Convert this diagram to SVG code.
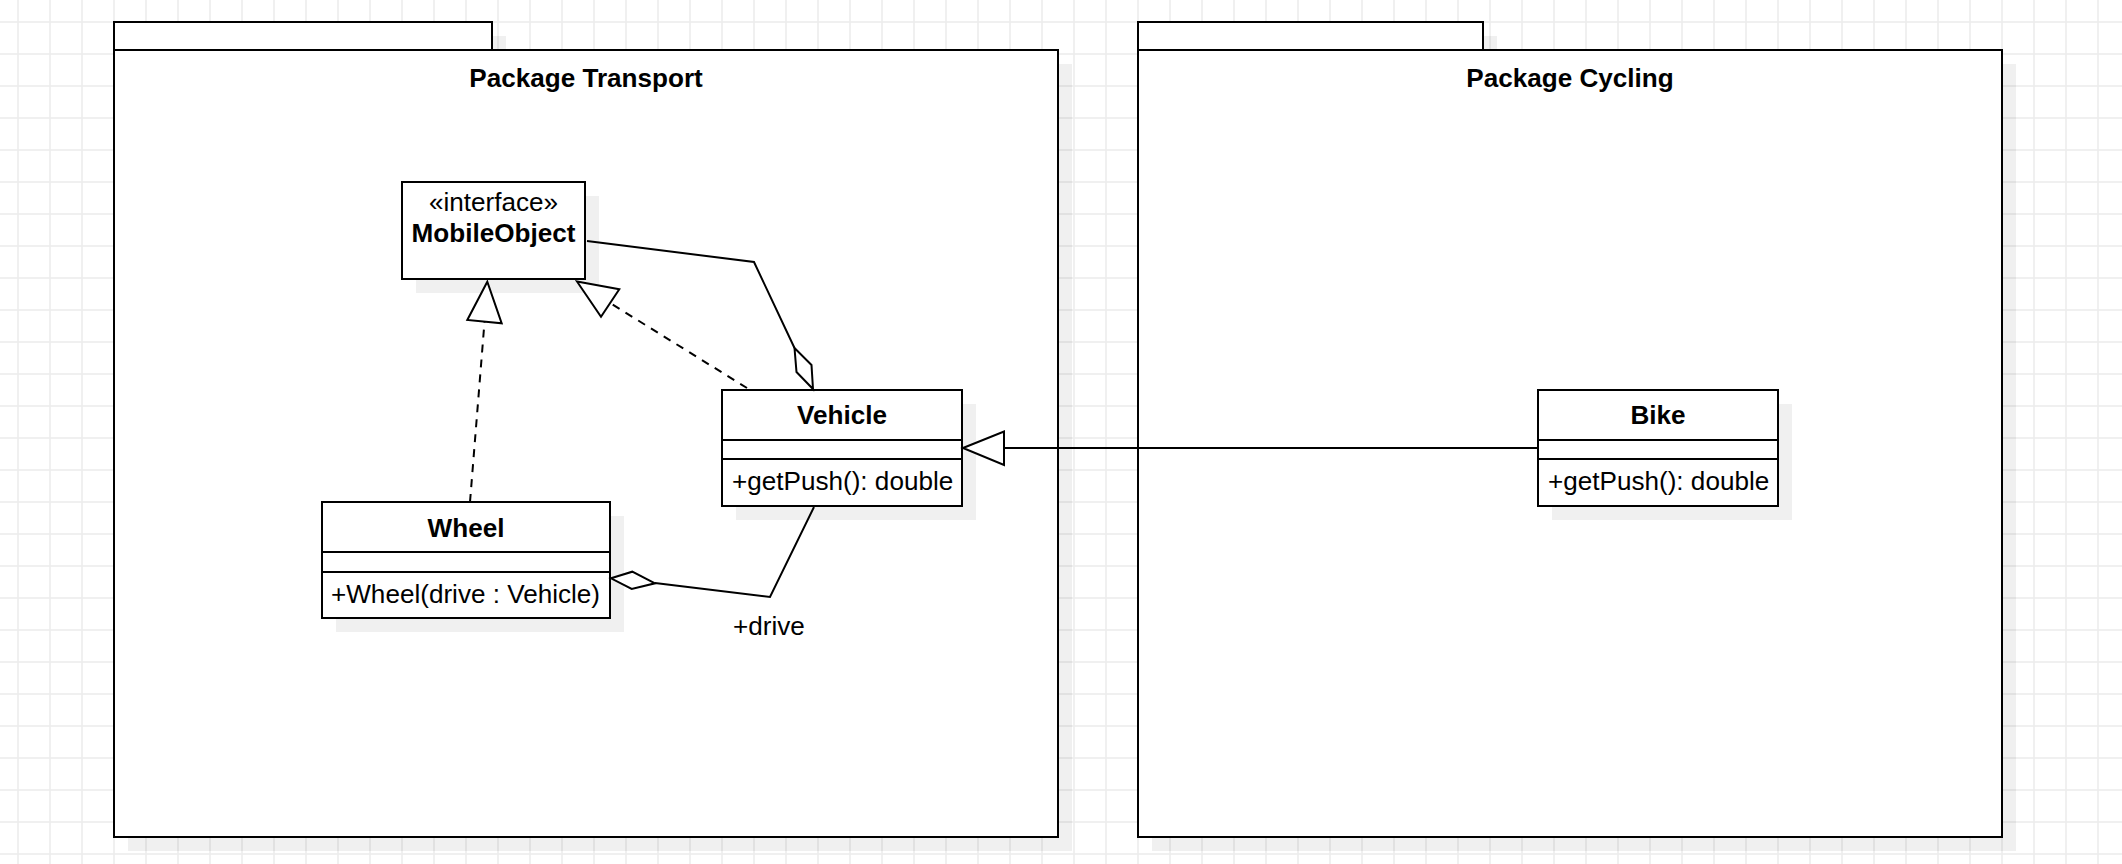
<svg xmlns="http://www.w3.org/2000/svg" width="2122" height="864" viewBox="0 0 2122 864">
  <defs>
    <pattern id="grid" patternUnits="userSpaceOnUse" x="2" y="6" width="32" height="32">
      <path d="M16 0V32M0 16H32" stroke="#ececec" stroke-width="1.5" fill="none"/>
    </pattern>
  </defs>
  <style>
    .box { fill: #ffffff; stroke: #000000; stroke-width: 2; }
    .shadow { fill: #000000; fill-opacity: 0.06; stroke: none; }
    .div { stroke: #000000; stroke-width: 2; }
    .edge { fill: none; stroke: #000000; stroke-width: 2; }
    .dash { stroke-dasharray: 8 7; }
    .head { fill: #ffffff; stroke: #000000; stroke-width: 2; stroke-linejoin: miter; }
    text { font-family: "Liberation Sans", Arial, sans-serif; font-size: 26.1px; fill: #000000; }
    .b { font-weight: bold; }
    .c { text-anchor: middle; }
  </style>

  <rect width="2122" height="864" fill="#ffffff"/>
  <rect width="2122" height="864" fill="url(#grid)"/>

  <!-- packages -->
  <g id="pkg-transport">
    <rect class="shadow" x="128" y="36" width="378" height="28"/>
    <rect class="shadow" x="128" y="64" width="944" height="787"/>
    <rect class="box" x="114" y="22" width="378" height="28"/>
    <rect class="box" x="114" y="50" width="944" height="787"/>
    <text class="b c" x="586" y="86.5">Package Transport</text>
  </g>
  <g id="pkg-cycling">
    <rect class="shadow" x="1152" y="36" width="345" height="28"/>
    <rect class="shadow" x="1152" y="64" width="864" height="787"/>
    <rect class="box" x="1138" y="22" width="345" height="28"/>
    <rect class="box" x="1138" y="50" width="864" height="787"/>
    <text class="b c" x="1570" y="86.5">Package Cycling</text>
  </g>

  <!-- classes -->
  <g id="mobile-object">
    <rect class="shadow" x="416" y="196" width="183" height="97"/>
    <rect class="box" x="402" y="182" width="183" height="97"/>
    <text class="c" x="493.5" y="210.5">«interface»</text>
    <text class="b c" x="493.5" y="242">MobileObject</text>
  </g>
  <g id="vehicle">
    <rect class="shadow" x="736" y="404" width="240" height="116"/>
    <rect class="box" x="722" y="390" width="240" height="116"/>
    <line class="div" x1="722" y1="440" x2="963" y2="440"/>
    <line class="div" x1="722" y1="459" x2="963" y2="459"/>
    <text class="b c" x="842" y="424">Vehicle</text>
    <text x="732" y="489.5">+getPush(): double</text>
  </g>
  <g id="bike">
    <rect class="shadow" x="1552" y="404" width="240" height="116"/>
    <rect class="box" x="1538" y="390" width="240" height="116"/>
    <line class="div" x1="1538" y1="440" x2="1779" y2="440"/>
    <line class="div" x1="1538" y1="459" x2="1779" y2="459"/>
    <text class="b c" x="1658" y="424">Bike</text>
    <text x="1548" y="489.5">+getPush(): double</text>
  </g>
  <g id="wheel">
    <rect class="shadow" x="336" y="516" width="288" height="116"/>
    <rect class="box" x="322" y="502" width="288" height="116"/>
    <line class="div" x1="322" y1="552" x2="611" y2="552"/>
    <line class="div" x1="322" y1="572" x2="611" y2="572"/>
    <text class="b c" x="466" y="537">Wheel</text>
    <text x="331" y="603">+Wheel(drive : Vehicle)</text>
  </g>

  <!-- connectors -->
  <g id="connectors">
    <!-- Bike generalizes Vehicle -->
    <line class="edge" x1="1538" y1="448" x2="1004" y2="448"/>
    <polygon class="head" points="963,448 1004,431.5 1004,465"/>

    <!-- Vehicle realizes MobileObject -->
    <line class="edge dash" x1="747" y1="388" x2="610" y2="303"/>
    <polygon class="head" points="577,281.5 619.3,289.3 601,316.7"/>

    <!-- Wheel realizes MobileObject -->
    <line class="edge dash" x1="470" y1="502" x2="484.5" y2="322"/>
    <polygon class="head" points="487.3,281.7 467.3,320 501.7,323.3"/>

    <!-- Vehicle aggregates MobileObject -->
    <polyline class="edge" points="587,241 754,262 794.5,348"/>
    <polygon class="head" points="794.5,348 811.5,365 813,389 796.5,372"/>

    <!-- Wheel aggregates Vehicle (+drive) -->
    <polyline class="edge" points="814,507 770,597 655,583"/>
    <polygon class="head" points="611,578.3 632.3,571.7 655,583.3 631.7,589"/>
    <text x="733" y="635">+drive</text>
  </g>
</svg>
